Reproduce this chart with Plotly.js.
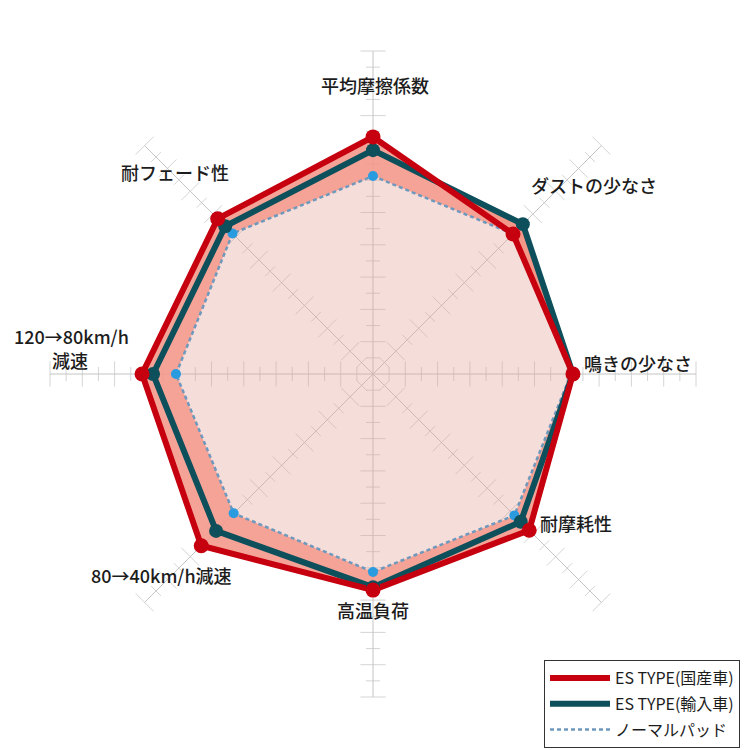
<!DOCTYPE html>
<html>
<head>
<meta charset="utf-8">
<script src="https://cdn.plot.ly/plotly-3.0.1.min.js"></script>
<style>html,body{margin:0;padding:0;background:#fff;}#chart{width:750px;height:750px;}</style>
</head>
<body>
<div id="chart"></div>
<script>
// ---- data ----
const categories = ['平均摩擦係数','ダストの少なさ','鳴きの少なさ','耐摩耗性','高温負荷','80→40km/h減速','120→80km/h減速','耐フェード性'];
const labelTexts = ['平均摩擦係数','ダストの少なさ','鳴きの少なさ','耐摩耗性','高温負荷','80→40km/h減速','120→80km/h','減速','耐フェード性'];
const esDomestic = [7.34, 6.13, 6.19, 6.84, 6.69, 7.52, 7.15, 6.80];
const esImport   = [6.93, 6.56, 6.19, 6.47, 6.60, 6.87, 6.81, 6.47];
const normalPad  = [6.13, 6.13, 6.13, 6.19, 6.13, 6.10, 6.10, 6.15];
const seriesNames = ['ES TYPE(国産車)','ES TYPE(輸入車)','ノーマルパッド'];
const axisMax = 10;
const tickStep = 0.5;

// ---- helpers ----
const close = a => a.concat([a[0]]);
const thetaC = close(categories);
const FONT = '"Noto Sans CJK JP", "Noto Sans", sans-serif';

// axis tick marks along every spoke
const tickR = [], tickT = [], tickSize = [], tickAngle = [];
categories.forEach((c, i) => {
  for (let k = 1; k * tickStep <= axisMax + 1e-9; k++) {
    const r = k * tickStep;
    tickR.push(r); tickT.push(c);
    tickSize.push(Math.abs(r - Math.round(r)) < 1e-9 ? 18 : 10);
    tickAngle.push(i * 360 / categories.length);
  }
});

const colors = {red: '#c6000f', teal: '#0d4f5b', blue: '#2b9be0', dash: '#6f98bd'};

const traces = [
  {type: 'scatterpolar', r: tickR, theta: tickT, mode: 'markers', showlegend: false, hoverinfo: 'skip',
   marker: {symbol: 'line-ew', size: tickSize, angle: tickAngle, color: '#c4c4c4', line: {color: '#c4c4c4', width: 1}}},
  // fills
  {type: 'scatterpolar', r: close(normalPad), theta: thetaC, mode: 'none', fill: 'toself',
   fillcolor: 'rgba(226,160,150,0.36)',
   fillgradient: {type: 'radial', colorscale: [[0, 'rgba(236,222,222,0.45)'], [1, 'rgba(232,172,160,0.55)']]},
   showlegend: false, hoverinfo: 'skip'},
  {type: 'scatterpolar', r: close(esImport), theta: thetaC, mode: 'none', fill: 'tonext',
   fillcolor: 'rgba(242,150,135,0.88)', showlegend: false, hoverinfo: 'skip'},
  {type: 'scatterpolar', r: close(esDomestic), theta: thetaC, mode: 'none', fill: 'tonext',
   fillcolor: 'rgba(242,150,135,0.88)', showlegend: false, hoverinfo: 'skip'},
  // lines (legend)
  {type: 'scatterpolar', name: seriesNames[2], legendgroup: 'c', legendrank: 3, r: close(normalPad), theta: thetaC, mode: 'lines',
   line: {color: colors.dash, width: 2.5, dash: '4px,3px'}},
  {type: 'scatterpolar', name: seriesNames[1], legendgroup: 'b', legendrank: 2, r: close(esImport), theta: thetaC, mode: 'lines',
   line: {color: colors.teal, width: 6}},
  {type: 'scatterpolar', name: seriesNames[0], legendgroup: 'a', legendrank: 1, r: close(esDomestic), theta: thetaC, mode: 'lines',
   line: {color: colors.red, width: 6}},
  // markers
  {type: 'scatterpolar', r: normalPad, theta: categories, mode: 'markers', showlegend: false,
   marker: {color: colors.blue, size: 10}},
  {type: 'scatterpolar', r: esImport, theta: categories, mode: 'markers', showlegend: false,
   marker: {color: colors.teal, size: 14}},
  {type: 'scatterpolar', r: esDomestic, theta: categories, mode: 'markers', showlegend: false,
   marker: {color: colors.red, size: 15}}
];

// label positions (pixel centres -> paper)
const labelPos = [[375,85],[594,185],[638,363],[576,523],[373,610],[161,575],[71,336],[70,360],[175,172]];
const annotations = labelTexts.map((t, i) => ({
  text: t, xref: 'paper', yref: 'paper', x: labelPos[i][0] / 750, y: 1 - labelPos[i][1] / 750,
  xanchor: 'center', yanchor: 'middle', showarrow: false,
  font: {family: FONT, size: 18, weight: 500, color: '#1c1c1c'}
}));

const layout = {
  width: 750, height: 750,
  margin: {l: 0, r: 0, t: 0, b: 0},
  paper_bgcolor: '#fff',
  font: {family: FONT},
  polar: {
    domain: {x: [50/750, 696/750], y: [1 - 697/750, 1 - 51/750]},
    bgcolor: 'rgba(0,0,0,0)',
    radialaxis: {range: [0, axisMax], showgrid: false, showline: false, showticklabels: false, ticks: ''},
    angularaxis: {type: 'category', rotation: 90, direction: 'clockwise', showline: false,
      showticklabels: false, ticks: '', showgrid: true, gridcolor: '#c4c4c4', gridwidth: 1}
  },
  showlegend: true,
  legend: {
    x: 544/750, y: 1 - 660/750, xanchor: 'left', yanchor: 'top',
    traceorder: 'grouped', bgcolor: '#fff', bordercolor: '#333', borderwidth: 1,
    itemwidth: 60, font: {family: FONT, size: 16, color: '#1c1c1c'}, tracegroupgap: 2
  },
  annotations: annotations
};

Plotly.newPlot('chart', traces, layout, {displayModeBar: false, staticPlot: true});
</script>
</body>
</html>
